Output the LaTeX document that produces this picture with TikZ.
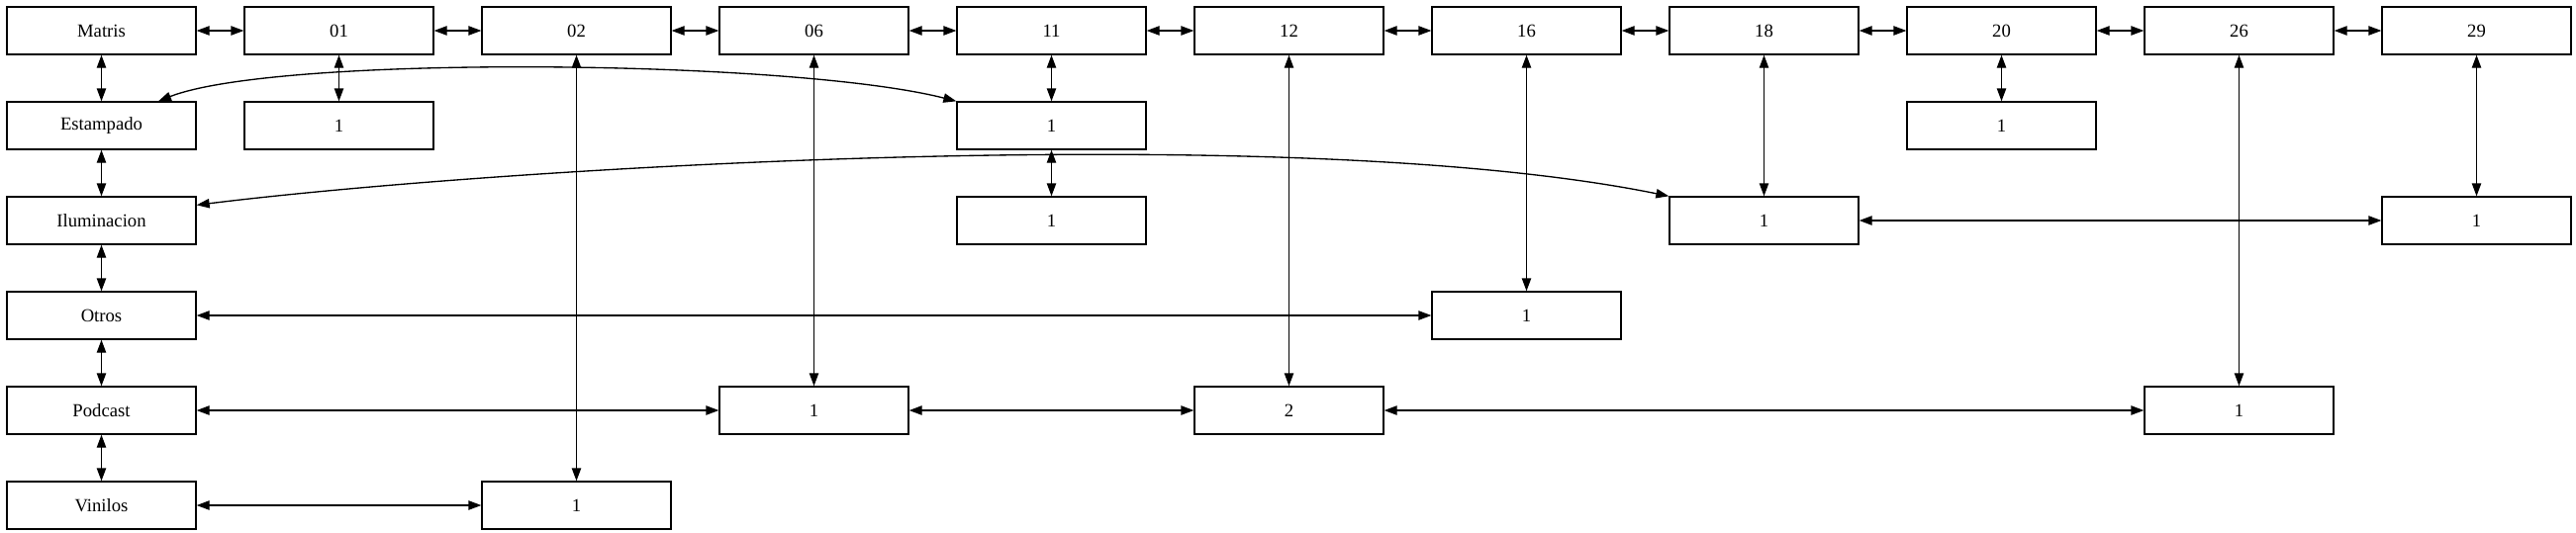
\documentclass[tikz,border=0pt]{standalone}
\usepackage{fontspec}
\setmainfont{Liberation Serif}
\usetikzlibrary{arrows.meta,calc}
\begin{document}
\begin{tikzpicture}[x=0.75pt,y=-0.75pt,
  box/.style={draw,line width=1pt,rectangle,minimum width=143.25pt,minimum height=36pt,inner sep=0pt,font=\fontsize{14pt}{16pt}\selectfont},
  edge/.style={line width=1pt,{Triangle[length=9.75pt,width=7pt]}-{Triangle[length=9.75pt,width=7pt]}}]
\useasboundingbox (0,0) rectangle (2603,539);
% header row
\node[box] (m)   at (102.5,31) {Matris};
\node[box] (c01) at (342.5,31) {01};
\node[box] (c02) at (582.5,31) {02};
\node[box] (c06) at (822.5,31) {06};
\node[box] (c11) at (1062.5,31) {11};
\node[box] (c12) at (1302.5,31) {12};
\node[box] (c16) at (1542.5,31) {16};
\node[box] (c18) at (1782.5,31) {18};
\node[box] (c20) at (2022.5,31) {20};
\node[box] (c26) at (2262.5,31) {26};
\node[box] (c29) at (2502.5,31) {29};
% first column
\node[box] (est) at (102.5,127) {Estampado};
\node[box] (ilu) at (102.5,223) {Iluminacion};
\node[box] (otr) at (102.5,319) {Otros};
\node[box] (pod) at (102.5,415) {Podcast};
\node[box] (vin) at (102.5,511) {Vinilos};
% values
\node[box] (v11)  at (342.5,127) {1};
\node[box] (v25)  at (582.5,511) {1};
\node[box] (v34)  at (822.5,415) {1};
\node[box] (v41)  at (1062.5,127) {1};
\node[box] (v42)  at (1062.5,223) {1};
\node[box] (v54)  at (1302.5,415) {2};
\node[box] (v63)  at (1542.5,319) {1};
\node[box] (v72)  at (1782.5,223) {1};
\node[box] (v81)  at (2022.5,127) {1};
\node[box] (v94)  at (2262.5,415) {1};
\node[box] (v102) at (2502.5,223) {1};
% header chain
\draw[edge] (m) -- (c01);
\draw[edge] (c01) -- (c02);
\draw[edge] (c02) -- (c06);
\draw[edge] (c06) -- (c11);
\draw[edge] (c11) -- (c12);
\draw[edge] (c12) -- (c16);
\draw[edge] (c16) -- (c18);
\draw[edge] (c18) -- (c20);
\draw[edge] (c20) -- (c26);
\draw[edge] (c26) -- (c29);
% first column chain
\draw[edge] (m) -- (est);
\draw[edge] (est) -- (ilu);
\draw[edge] (ilu) -- (otr);
\draw[edge] (otr) -- (pod);
\draw[edge] (pod) -- (vin);
% verticals
\draw[edge] (c01) -- (v11);
\draw[edge] (c02) -- (v25);
\draw[edge] (c06) -- (v34);
\draw[edge] (c11) -- (v41);
\draw[edge] (v41) -- (v42);
\draw[edge] (c12) -- (v54);
\draw[edge] (c16) -- (v63);
\draw[edge] (c18) -- (v72);
\draw[edge] (c20) -- (v81);
\draw[edge] (c26) -- (v94);
\draw[edge] (c29) -- (v102);
% horizontals
\draw[edge] (otr) -- (v63);
\draw[edge] (pod) -- (v34);
\draw[edge] (v34) -- (v54);
\draw[edge] (v54) -- (v94);
\draw[edge] (vin) -- (v25);
\draw[edge] (v72) -- (v102);
% curves
\draw[edge] ($(est.north)+(57.5,0)$) .. controls (280,55) and (800,60) .. (v41.north west);
\draw[edge] ($(ilu.north east)+(0,9)$) .. controls (500,170) and (1300,120) .. (v72.north west);
\end{tikzpicture}
\end{document}
